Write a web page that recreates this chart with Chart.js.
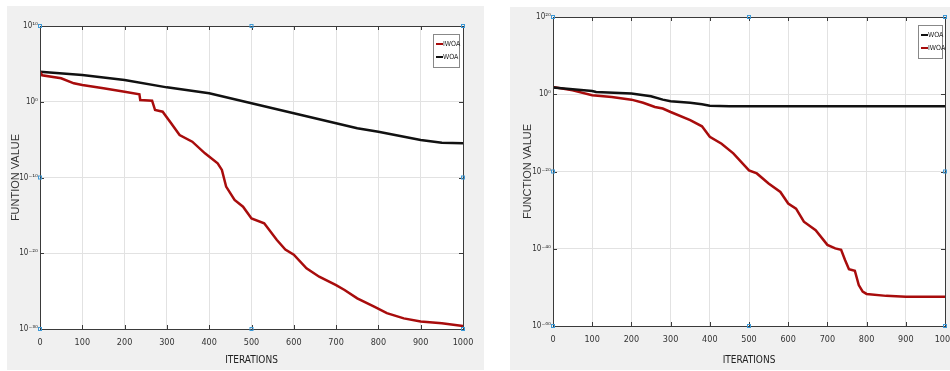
<!DOCTYPE html>
<html>
<head>
<meta charset="utf-8">
<script src="https://cdn.jsdelivr.net/npm/chart.js@4.4.1/dist/chart.umd.min.js"></script>
<style>
  html, body { margin: 0; padding: 0; background: #fff; }
  body { width: 950px; height: 371px; position: relative; overflow: hidden; }
  .panel { position: absolute; background: #f0f0f0; }
  #leftPanel { left: 7px; top: 6px; width: 477px; height: 364px; }
  #rightPanel { left: 510px; top: 7px; width: 440px; height: 363px; }
</style>
</head>
<body>
<div class="panel" id="leftPanel"><canvas id="leftChart"></canvas></div>
<div class="panel" id="rightPanel"><canvas id="rightChart"></canvas></div>
<script>
// ------------------------------------------------------------
// Data (values kept as log10 exponents)
// ------------------------------------------------------------
const xTicks = [0, 100, 200, 300, 400, 500, 600, 700, 800, 900, 1000];

// left panel
const leftYTicks = [1e10, 1e0, 1e-10, 1e-20, 1e-30];
const leftWoaIter = [0, 100, 200, 300, 400, 500, 600, 700, 750, 800, 900, 950, 1000];
const leftWoaExp = [3.97, 3.53, 2.87, 1.9, 1.11, -0.2, -1.53, -2.85, -3.5, -3.95, -5.05, -5.4, -5.49];
const leftIwoaIter = [0, 5, 50, 80, 100, 150, 200, 235, 237, 265, 272, 290, 310, 330, 360, 390, 420, 430, 440,
  460, 480, 500, 530, 560, 580, 600, 630, 660, 700, 720, 750, 790, 820, 860, 900, 950, 1000];
const leftIwoaExp = [3.97, 3.5, 3.1, 2.43, 2.2, 1.77, 1.33, 0.98, 0.23, 0.14, -1.09, -1.31, -2.85, -4.39, -5.27,
  -6.81, -8.13, -9.0, -11.2, -12.97, -13.85, -15.4, -16.05, -18.25, -19.5, -20.2, -22.0, -23.1, -24.2, -24.85,
  -25.95, -27.05, -27.9, -28.6, -29.0, -29.25, -29.6];

// right panel
const rightYTicks = [1e20, 1e0, 1e-20, 1e-40, 1e-60];
const rightWoaIter = [0, 50, 100, 110, 200, 250, 280, 300, 350, 380, 400, 450, 1000];
const rightWoaExp = [1.72, 1.3, 0.86, 0.6, 0.17, -0.5, -1.4, -1.8, -2.2, -2.6, -3.0, -3.1, -3.1];
const rightIwoaIter = [0, 50, 100, 150, 200, 230, 260, 280, 300, 350, 380, 400, 430, 460, 500, 520, 550, 580,
  600, 620, 640, 670, 700, 720, 735, 745, 755, 770, 780, 790, 800, 850, 900, 1000];
const rightIwoaExp = [1.9, 1.0, -0.26, -0.7, -1.4, -2.2, -3.3, -3.7, -4.6, -6.7, -8.3, -11.0, -12.8, -15.3,
  -19.7, -20.5, -23.1, -25.3, -28.3, -29.6, -33.0, -35.2, -39.0, -39.9, -40.3, -42.9, -45.3, -45.7, -49.4,
  -51.1, -51.7, -52.2, -52.4, -52.4];

const RED = "#a80c0c";
const BLACK = "#111111";
const NARROW = "'Liberation Sans Narrow', 'DejaVu Sans Condensed', 'Liberation Sans', sans-serif";

// ------------------------------------------------------------
// Helpers
// ------------------------------------------------------------
function toPoints(iters, exps) {
  return iters.map((x, i) => ({ x: x, y: Math.pow(10, exps[i]) }));
}

const SUP = { "-": "\u207B", "0": "\u2070", "1": "\u00B9", "2": "\u00B2", "3": "\u00B3", "4": "\u2074",
  "5": "\u2075", "6": "\u2076", "7": "\u2077", "8": "\u2078", "9": "\u2079" };
function powerLabel(v) {
  const e = String(Math.round(Math.log10(v)));
  return "10" + e.split("").map((c) => SUP[c]).join("");
}

// white plot background
const plotBgPlugin = {
  id: "plotBg",
  beforeDraw(chart) {
    const { ctx, chartArea: a } = chart;
    ctx.save();
    ctx.fillStyle = "#ffffff";
    ctx.fillRect(a.left, a.top, a.right - a.left, a.bottom - a.top);
    ctx.restore();
  },
};

// frame, inward ticks, blue handles and legend box drawn on the chart area
const framePlugin = {
  id: "frame",
  afterDraw(chart, args, opts) {
    const { ctx, chartArea: a, scales } = chart;
    ctx.save();
    ctx.strokeStyle = "#3a3a3a";
    ctx.lineWidth = 1;
    ctx.strokeRect(a.left + 0.5, a.top + 0.5, a.right - a.left, a.bottom - a.top);
    // inward tick marks
    ctx.beginPath();
    scales.x.ticks.forEach((t) => {
      const px = Math.round(scales.x.getPixelForValue(t.value)) + 0.5;
      ctx.moveTo(px, a.bottom); ctx.lineTo(px, a.bottom - 4);
      ctx.moveTo(px, a.top); ctx.lineTo(px, a.top + 4);
    });
    scales.y.ticks.forEach((t) => {
      const py = Math.round(scales.y.getPixelForValue(t.value)) + 0.5;
      ctx.moveTo(a.left, py); ctx.lineTo(a.left + 4, py);
      ctx.moveTo(a.right, py); ctx.lineTo(a.right - 4, py);
    });
    ctx.stroke();

    // selection handles
    const mx = (a.left + a.right) / 2, my = (a.top + a.bottom) / 2;
    const handles = [[a.left, a.top], [mx, a.top], [a.right, a.top], [a.left, my], [a.right, my],
      [a.left, a.bottom], [mx, a.bottom], [a.right, a.bottom]];
    ctx.strokeStyle = "#3d9ad8";
    handles.forEach(([hx, hy]) => ctx.strokeRect(hx - 1.5, hy - 1.5, 3, 3));

    // legend box
    const bw = opts.w, bh = 33;
    const bx = a.right - opts.right - bw, by = a.top + 8;
    ctx.fillStyle = "#fff";
    ctx.fillRect(bx, by, bw, bh);
    ctx.strokeStyle = "#888";
    ctx.strokeRect(bx + 0.5, by + 0.5, bw, bh);
    ctx.font = "7px " + NARROW;
    ctx.textBaseline = "middle";
    chart.data.datasets.forEach((ds, i) => {
      const ly = by + 10 + i * 13;
      ctx.strokeStyle = ds.borderColor;
      ctx.lineWidth = 2;
      ctx.beginPath();
      ctx.moveTo(bx + 3, ly); ctx.lineTo(bx + 10, ly);
      ctx.stroke();
      ctx.fillStyle = "#222";
      ctx.fillText(ds.label, bx + 10, ly);
    });
    ctx.restore();
  },
};

function makeChart(id, cfg) {
  const ctx = document.getElementById(id).getContext("2d");
  return new Chart(ctx, {
    type: "line",
    data: { datasets: cfg.datasets },
    options: {
      responsive: true,
      maintainAspectRatio: false,
      animation: false,
      layout: { padding: { top: cfg.padTop, right: cfg.padRight, left: 0, bottom: 0 } },
      elements: { point: { radius: 0 }, line: { borderWidth: 2.5, tension: 0 } },
      plugins: { legend: { display: false }, tooltip: { enabled: false }, frame: { right: cfg.legendRight, w: cfg.legendW } },
      scales: {
        x: {
          type: "linear",
          min: 0,
          max: 1000,
          afterBuildTicks: (s) => { s.ticks = xTicks.map((v) => ({ value: v })); },
          afterFit: (s) => { s.height = cfg.xHeight; s.paddingLeft = 0; s.paddingRight = 0; },
          grid: { color: "#e2e2e2", drawTicks: false },
          border: { display: false },
          ticks: { color: "#333", font: { family: NARROW, size: 9 }, padding: 8, maxRotation: 0, callback: (v) => String(v) },
          title: { display: true, text: "ITERATIONS", color: "#222", font: { family: NARROW, size: 10 }, padding: { top: 3 } },
        },
        y: {
          type: "logarithmic",
          min: cfg.yMin,
          max: cfg.yMax,
          afterBuildTicks: (s) => { s.ticks = cfg.yTicks.map((v) => ({ value: v })); },
          afterFit: (s) => { s.width = cfg.yWidth; s.paddingTop = 0; s.paddingBottom = 0; },
          grid: { color: "#e2e2e2", drawTicks: false },
          border: { display: false },
          ticks: { color: "#333", font: { family: NARROW, size: 8 }, padding: 2, callback: (v) => powerLabel(v) },
          title: { display: true, text: cfg.yTitle, color: "#333", font: { family: "'Liberation Sans', sans-serif", size: 11 }, padding: { top: cfg.yTitlePad, bottom: 0 } },
        },
      },
    },
    plugins: [plotBgPlugin, framePlugin],
  });
}

// ------------------------------------------------------------
// Build both charts
// ------------------------------------------------------------
makeChart("leftChart", {
  datasets: [
    { label: "IWOA", data: toPoints(leftIwoaIter, leftIwoaExp), borderColor: RED },
    { label: "WOA", data: toPoints(leftWoaIter, leftWoaExp), borderColor: BLACK },
  ],
  yMin: 1e-30, yMax: 1e10, yTicks: leftYTicks,
  yTitle: "FUNTION VALUE", yTitlePad: 2,
  padTop: 20, padRight: 21, xHeight: 41, yWidth: 33,
  legendRight: 4, legendW: 26,
});

makeChart("rightChart", {
  datasets: [
    { label: "WOA", data: toPoints(rightWoaIter, rightWoaExp), borderColor: BLACK },
    { label: "IWOA", data: toPoints(rightIwoaIter, rightIwoaExp), borderColor: RED },
  ],
  yMin: 1e-60, yMax: 1e20, yTicks: rightYTicks,
  yTitle: "FUNCTION VALUE", yTitlePad: 11,
  padTop: 10, padRight: 5, xHeight: 44, yWidth: 43,
  legendRight: 3, legendW: 24,
});
</script>
</body>
</html>
